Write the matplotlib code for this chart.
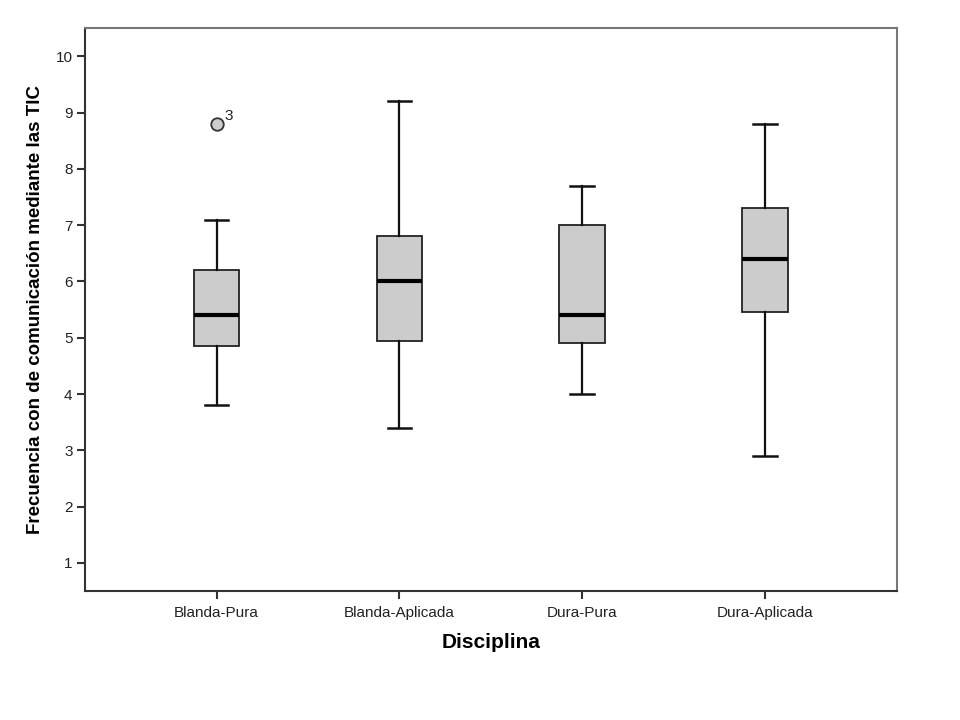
import matplotlib.pyplot as plt

# values
categories = ["Blanda-Pura", "Blanda-Aplicada", "Dura-Pura", "Dura-Aplicada"]
whisker_low = [3.8, 3.4, 4.0, 2.9]
q1 = [4.85, 4.95, 4.9, 5.45]
medians = [5.4, 6.0, 5.4, 6.4]
q3 = [6.2, 6.8, 7.0, 7.3]
whisker_high = [7.1, 9.2, 7.7, 8.8]
outliers = [[8.8], [], [], []]
outlier_labels = [["3"], [], [], []]
yticks = [1, 2, 3, 4, 5, 6, 7, 8, 9, 10]

plt.rcParams['font.family'] = ['Liberation Sans', 'DejaVu Sans']


def main():
    fig = plt.figure(figsize=(9.6, 7.2), dpi=100)
    ax = fig.add_axes([0.0885, 0.179, 0.8455, 0.782])

    stats = []
    for i, name in enumerate(categories):
        stats.append({"label": name, "whislo": whisker_low[i], "q1": q1[i], "med": medians[i],
                      "q3": q3[i], "whishi": whisker_high[i], "fliers": outliers[i]})

    positions = list(range(1, len(categories) + 1))
    ax.bxp(stats, positions=positions, widths=0.25, capwidths=0.13, patch_artist=True,
           boxprops=dict(facecolor="#cccccc", edgecolor="#222222", linewidth=1.3),
           medianprops=dict(color="black", linewidth=3),
           whiskerprops=dict(color="#111111", linewidth=1.6),
           capprops=dict(color="#111111", linewidth=1.8),
           flierprops=dict(marker="o", markersize=9, markerfacecolor="#cccccc",
                           markeredgecolor="#333333", markeredgewidth=1.3))

    for i, pos in enumerate(positions):
        for val, lab in zip(outliers[i], outlier_labels[i]):
            ax.annotate(lab, (pos, val), xytext=(6, 3), textcoords="offset points",
                        fontsize=11, color="#222222")

    ax.set_xlim(0.28, 4.72)
    ax.set_ylim(0.5, 10.5)
    ax.set_yticks(yticks)
    ax.set_xticks(positions)
    ax.set_xticklabels(categories)
    ax.tick_params(axis="both", direction="out", length=6, width=1.5, colors="#333333",
                   labelsize=11, labelcolor="#222222")
    ax.tick_params(axis="y", pad=3)
    ax.tick_params(axis="x", pad=5)

    ax.spines["left"].set_color("#333333")
    ax.spines["bottom"].set_color("#333333")
    ax.spines["top"].set_color("#777777")
    ax.spines["right"].set_color("#777777")
    for s in ax.spines.values():
        s.set_linewidth(1.5)

    ax.set_xlabel("Disciplina", fontsize=15, fontweight="bold", labelpad=9)
    ax.set_ylabel("Frecuencia con de comunicación mediante las TIC", fontsize=13.5,
                  fontweight="bold", labelpad=8)

    fig.savefig("out.png", dpi=100)


if __name__ == "__main__":
    main()
